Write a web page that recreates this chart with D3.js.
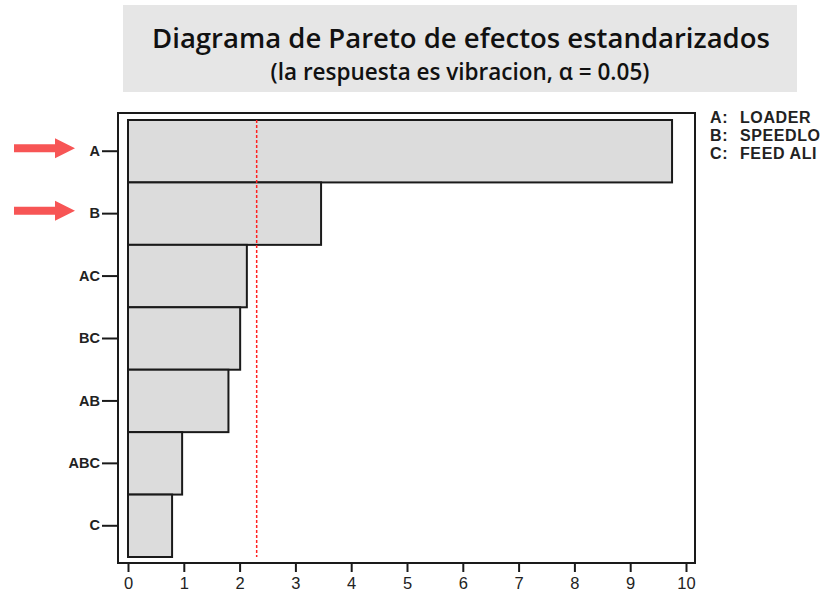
<!DOCTYPE html>
<html>
<head>
<meta charset="utf-8">
<script src="https://cdn.jsdelivr.net/npm/d3@7"></script>
<style>
  html, body { margin: 0; padding: 0; background: #fff; }
  svg { display: block; }
</style>
</head>
<body>
<svg id="chart" width="832" height="600"></svg>
<script>
// Standardized effects, ordered by magnitude
const terms = ["A", "B", "AC", "BC", "AB", "ABC", "C"];
const effects = [9.75, 3.46, 2.13, 2.01, 1.80, 0.97, 0.79];
const criticalValue = 2.306;           // t(0.025, 8)
const xTicks = [0, 1, 2, 3, 4, 5, 6, 7, 8, 9, 10];
const factorKeys = ["A:", "B:", "C:"];
const factorNames = ["LOADER", "SPEEDLO", "FEED ALI"];
const highlighted = ["A", "B"];
const titleText = "Diagrama de Pareto de efectos estandarizados";
const subtitleText = "(la respuesta es vibracion, \u03b1 = 0.05)";

const svg = d3.select("#chart");
const axisFont = "'Liberation Sans', Arial, sans-serif";

// Title banner
svg.append("rect")
  .attr("x", 123).attr("y", 5).attr("width", 674).attr("height", 87)
  .attr("fill", "#e6e6e6");
svg.append("text")
  .attr("x", 461).attr("y", 48)
  .attr("text-anchor", "middle")
  .attr("font-family", "'Open Sans', 'Noto Sans', sans-serif")
  .attr("font-weight", 600)
  .attr("font-size", 27.5)
  .attr("fill", "#111")
  .text(titleText);
svg.append("text")
  .attr("x", 460).attr("y", 80)
  .attr("text-anchor", "middle")
  .attr("font-family", "'Open Sans', 'Noto Sans', sans-serif")
  .attr("font-weight", 600)
  .attr("font-size", 22.5)
  .attr("fill", "#111")
  .text(subtitleText);

// Plot frame and scales
const frame = { left: 118, top: 113, right: 695, bottom: 563 };
const x = d3.scaleLinear().domain([0, 10]).range([128, 686]);
const y = d3.scaleBand().domain(terms).range([120, 557]).padding(0);

const g = svg.append("g");

g.append("rect")
  .attr("x", frame.left).attr("y", frame.top)
  .attr("width", frame.right - frame.left)
  .attr("height", frame.bottom - frame.top)
  .attr("fill", "none")
  .attr("stroke", "#1a1a1a")
  .attr("stroke-width", 2);

// Bars
g.selectAll("rect.bar")
  .data(terms.map((t, i) => ({ term: t, value: effects[i] })))
  .join("rect")
  .attr("class", "bar")
  .attr("x", x(0))
  .attr("y", d => y(d.term))
  .attr("width", d => x(d.value) - x(0))
  .attr("height", y.bandwidth())
  .attr("fill", "#dcdcdc")
  .attr("stroke", "#1a1a1a")
  .attr("stroke-width", 2);

// Reference line at the critical t value
g.append("line")
  .attr("x1", x(criticalValue)).attr("x2", x(criticalValue))
  .attr("y1", 120).attr("y2", 557)
  .attr("stroke", "#ff2020")
  .attr("stroke-width", 1.5)
  .attr("stroke-dasharray", "3,2");

// X axis
const xAxis = d3.axisBottom(x).tickValues(xTicks).tickSize(9).tickPadding(5).tickFormat(d3.format("d"));
const xg = svg.append("g").attr("transform", `translate(0,${frame.bottom})`).call(xAxis);
xg.select(".domain").remove();
xg.selectAll(".tick line").attr("stroke", "#1a1a1a").attr("stroke-width", 2);
xg.selectAll(".tick text")
  .attr("font-family", axisFont)
  .attr("font-size", 16.5)
  .attr("fill", "#222");

// Y axis
const yAxis = d3.axisLeft(y).tickSize(16).tickPadding(2);
const yg = svg.append("g").attr("transform", `translate(${frame.left},0)`).call(yAxis);
yg.select(".domain").remove();
yg.selectAll(".tick line").attr("stroke", "#1a1a1a").attr("stroke-width", 2);
yg.selectAll(".tick text")
  .attr("font-family", axisFont)
  .attr("font-size", 14.5)
  .attr("font-weight", "bold")
  .attr("fill", "#222");

// Factor legend
const legend = svg.append("g")
  .attr("font-family", axisFont)
  .attr("font-size", 16)
  .attr("font-weight", "bold")
  .attr("letter-spacing", 0.6)
  .attr("fill", "#222");
factorKeys.forEach((k, i) => {
  legend.append("text").attr("x", 710).attr("y", 123 + i * 18).text(k);
  legend.append("text").attr("x", 740).attr("y", 123 + i * 18).text(factorNames[i]);
});

// Highlight arrows pointing at the significant effects
const arrows = svg.append("g").attr("fill", "#f75555");
highlighted.forEach(t => {
  const cy = y(t) + y.bandwidth() / 2 - 3;
  const pts = [
    [14, cy - 4], [55, cy - 4], [55, cy - 10], [75, cy],
    [55, cy + 10], [55, cy + 4], [14, cy + 4]
  ];
  arrows.append("polygon").attr("points", pts.map(p => p.join(",")).join(" "));
});
</script>
</body>
</html>
